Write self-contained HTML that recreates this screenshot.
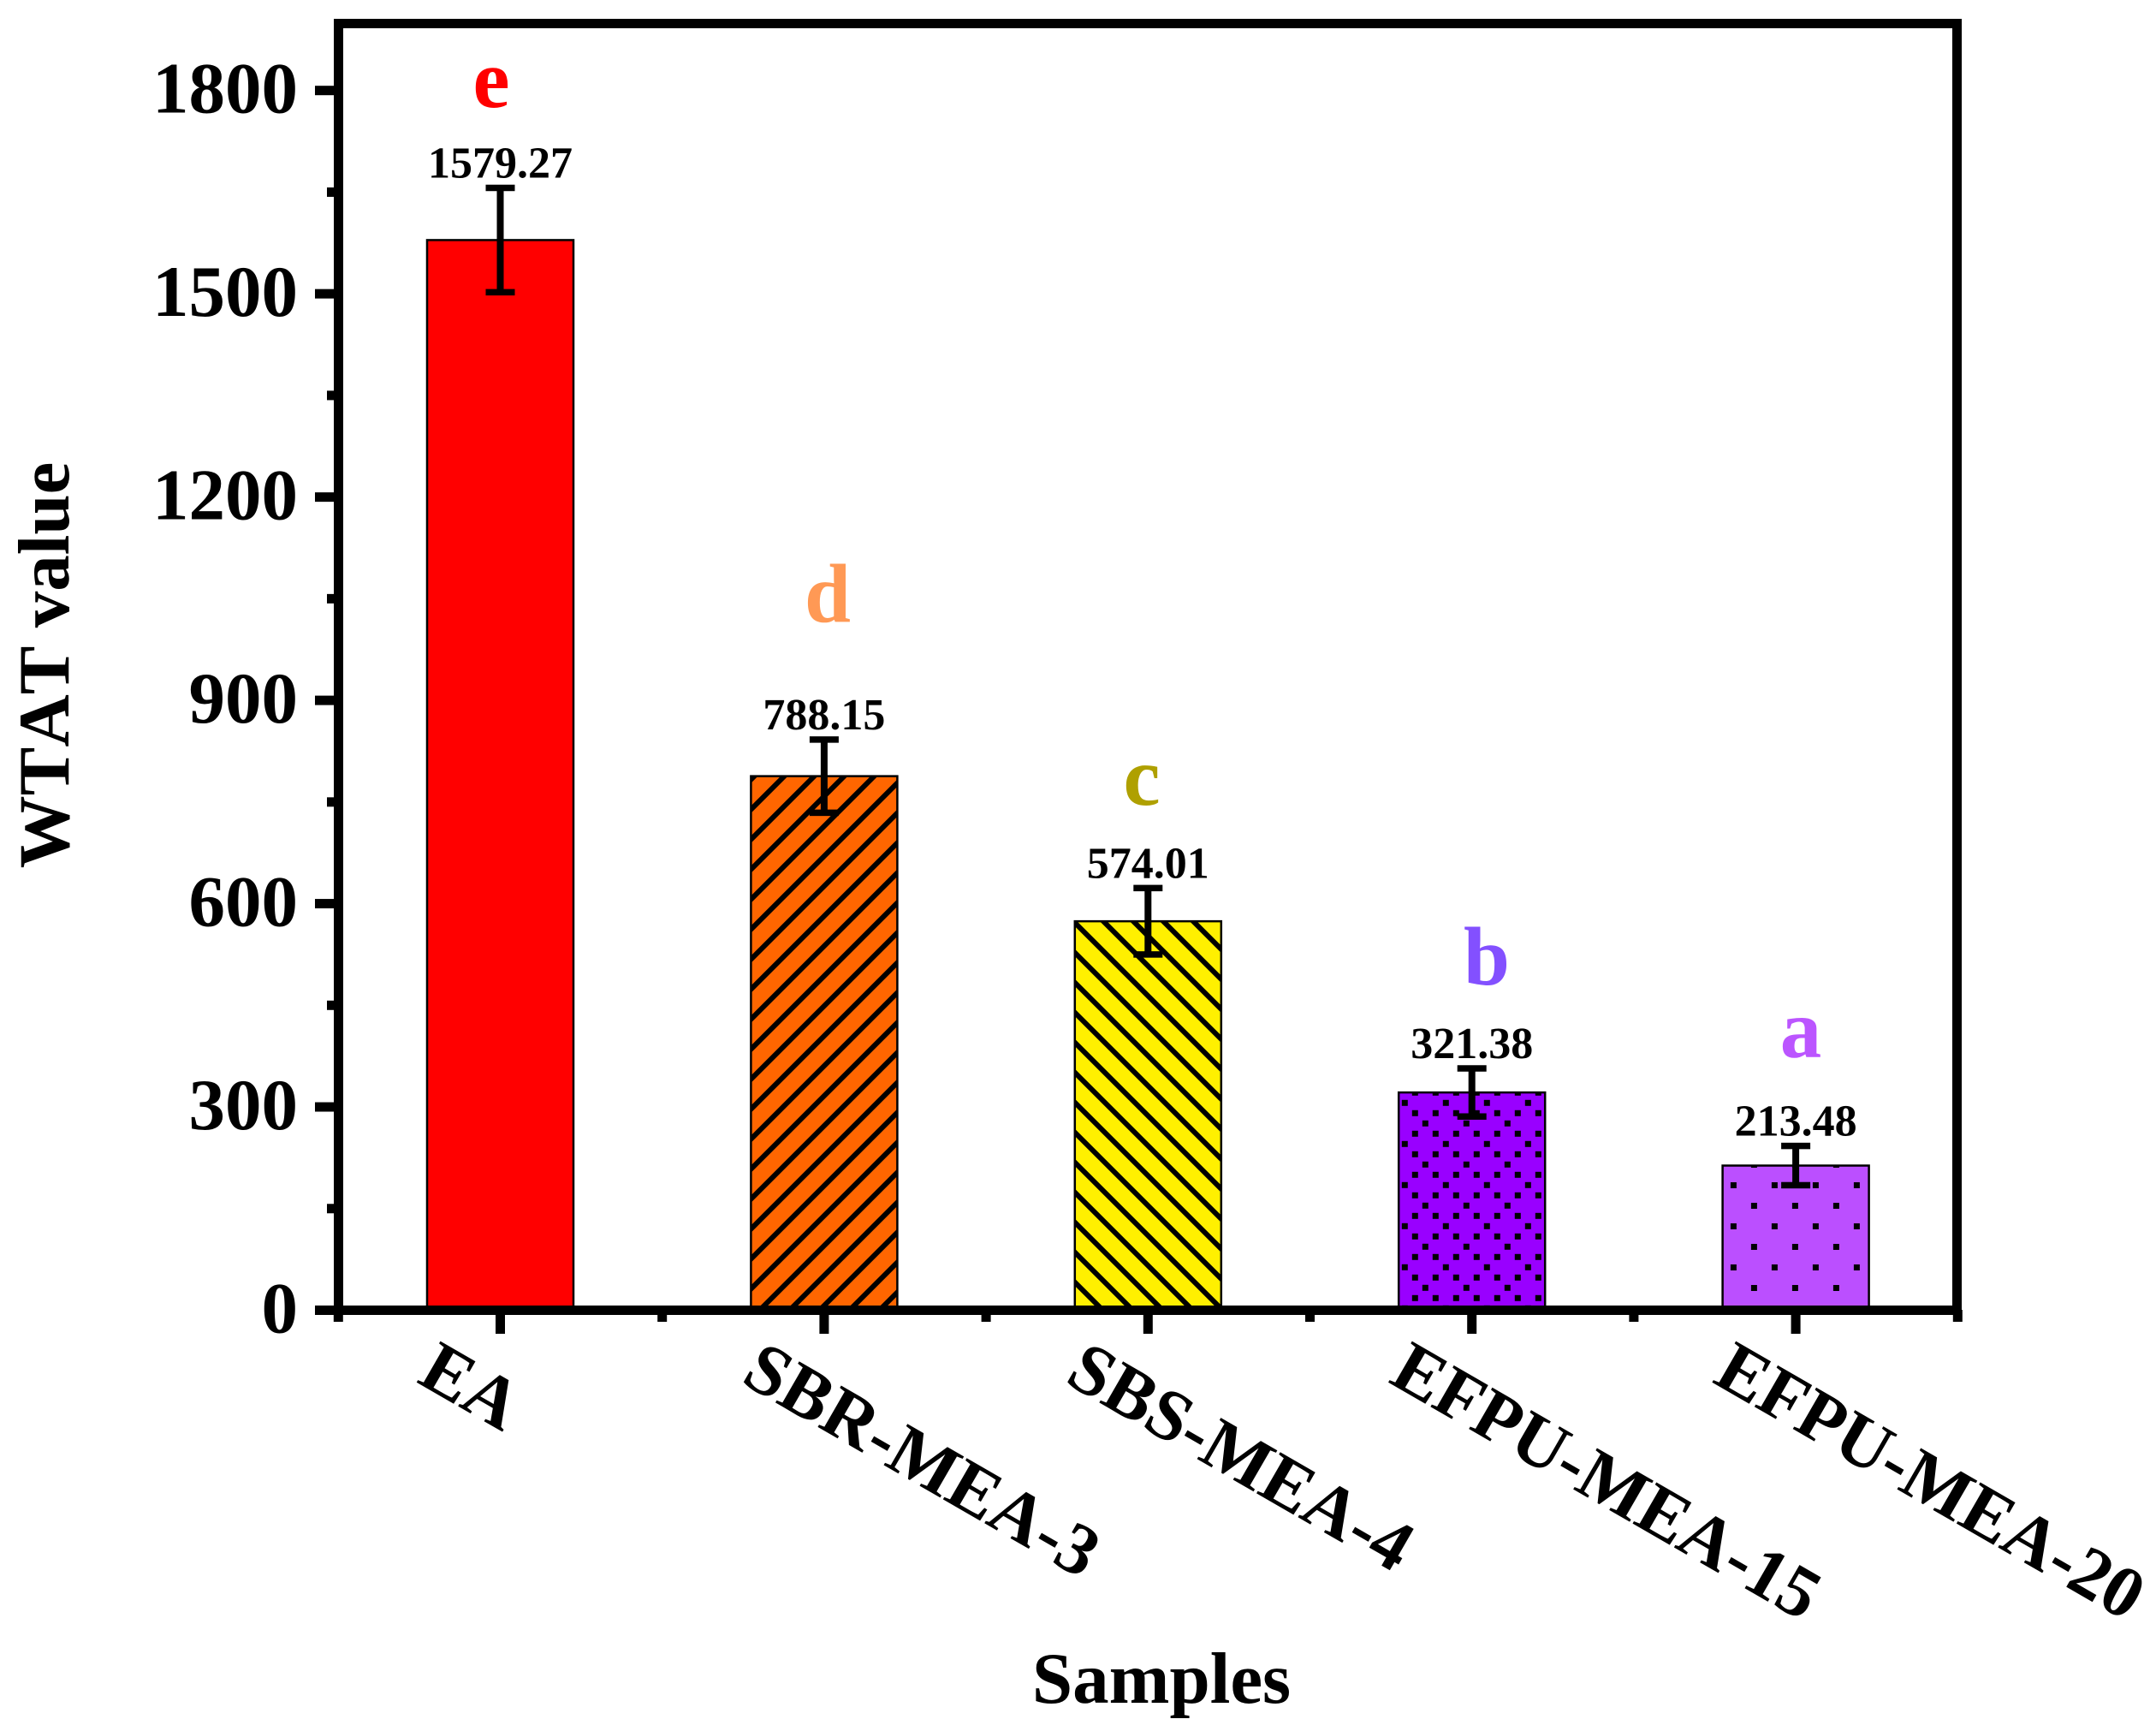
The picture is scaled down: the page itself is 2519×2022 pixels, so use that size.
<!DOCTYPE html>
<html lang="en">
<head>
<meta charset="utf-8">
<title>WTAT value by sample</title>
<style>
html,body{margin:0;padding:0;background:#fff;}
svg{display:block;}
text{font-family:"Liberation Serif",serif;font-weight:700;fill:#000;}
</style>
</head>
<body>
<svg id="chart" xmlns="http://www.w3.org/2000/svg" width="2519" height="2022" viewBox="0 0 2519 2022">
  <defs>
    <pattern id="hatch-up" patternUnits="userSpaceOnUse" x="3" y="0" width="35" height="35">
      <path d="M-5,5 L5,-5 M0,35 L35,0 M30,40 L40,30" stroke="#000" stroke-width="6" fill="none"/>
    </pattern>
    <pattern id="hatch-down" patternUnits="userSpaceOnUse" x="0" y="32" width="35" height="35">
      <path d="M0,0 L35,35 M-5,30 L5,40 M30,-5 L40,5" stroke="#000" stroke-width="6" fill="none"/>
    </pattern>
    <pattern id="dots-dense" patternUnits="userSpaceOnUse" x="1637.8" y="1284.8" width="48" height="48">
      <path d="M0,0h7v7h-7z M12,12h7v7h-7z M36,12h7v7h-7z M24,24h7v7h-7z M12,36h7v7h-7z M36,36h7v7h-7z" fill="#000"/>
    </pattern>
    <pattern id="dots-sparse" patternUnits="userSpaceOnUse" x="2021.9" y="1381" width="48" height="48">
      <path d="M0,0h7v7h-7z M24,24h7v7h-7z" fill="#000"/>
    </pattern>
  </defs>
  <rect x="0" y="0" width="2519" height="2022" fill="#fff"/>
  <g id="bars"></g>
  <g id="errors"></g>
  <g id="values"></g>
  <g id="axes"></g>
  <g font-size="97">
    <text x="574" y="125" text-anchor="middle" style="fill:#ff0000;font-size:97px">e</text>
    <text x="967" y="726" text-anchor="middle" style="fill:#ff9955;font-size:97px">d</text>
    <text x="1334" y="940" text-anchor="middle" style="fill:#afa000;font-size:97px">c</text>
    <text x="1737" y="1150" text-anchor="middle" style="fill:#8350ff;font-size:97px">b</text>
    <text x="2104" y="1235" text-anchor="middle" style="fill:#bb55ff;font-size:97px">a</text>
  </g>
  <text transform="translate(80,777) rotate(-90)" text-anchor="middle" style="font-size:85px;font-kerning:none">WTAT value</text>
  <text x="1357" y="1989" text-anchor="middle" style="font-size:85px">Samples</text>
</svg>
<script>
const categories = ["EA", "SBR-MEA-3", "SBS-MEA-4", "EFPU-MEA-15", "EFPU-MEA-20"];
const wtatValues = [1579.27, 788.15, 574.01, 321.38, 213.48];
const wtatErrors = [77, 54, 49, 35.5, 29];
const barFills = ["#ff0000", "#ff6600", "#fff000", "#9900ff", "#bb4fff"];
const barPatterns = ["", "hatch-up", "hatch-down", "dots-dense", "dots-sparse"];
const yMajorTicks = [0, 300, 600, 900, 1200, 1500, 1800];
const yMinorTicks = [150, 450, 750, 1050, 1350, 1650];

const NS = "http://www.w3.org/2000/svg";
function yScale(v) { return 1530.5 - v * (1530.5 - 105.7) / 1800; }
function xScale(p) { return 584.5 + p * 378.4; }
function make(tag, parent, attrs) {
  const el = document.createElementNS(NS, tag);
  for (const k in attrs) el.setAttribute(k, attrs[k]);
  parent.appendChild(el);
  return el;
}
const barsG = document.getElementById("bars");
const errG = document.getElementById("errors");
const valG = document.getElementById("values");
const axG = document.getElementById("axes");
const BAR_W = 171;

categories.forEach(function (cat, i) {
  const cx = xScale(i);
  const top = yScale(wtatValues[i]);
  const base = yScale(0);
  const bar = make("rect", barsG, { x: cx - BAR_W / 2, y: top, width: BAR_W, height: base - top, fill: barFills[i] });
  
  
  const overlay = make("rect", barsG, { x: cx - BAR_W / 2, y: top, width: BAR_W, height: base - top, fill: barPatterns[i] ? "url(#" + barPatterns[i] + ")" : "none", stroke: "#000", "stroke-width": 2.5 });
  
  

  const hi = yScale(wtatValues[i] + wtatErrors[i]);
  const lo = yScale(wtatValues[i] - wtatErrors[i]);
  const stem = make("rect", errG, { x: cx - 4, y: hi, width: 8, height: lo - hi, fill: "#000" });
  
  
  const capTop = make("rect", errG, { x: cx - 17, y: hi - 3.75, width: 34, height: 7.5, fill: "#000" });
  
  
  const capBot = make("rect", errG, { x: cx - 17, y: lo - 3.75, width: 34, height: 7.5, fill: "#000" });
  
  

  const val = make("text", valG, { x: cx, y: hi - 12, "text-anchor": "middle", style: "font-size:52px" });
  val.textContent = wtatValues[i].toFixed(2);
  
  

  const tick = make("rect", axG, { x: cx - 5.5, y: 1530, width: 11, height: 28, fill: "#000" });
  
  

  const label = make("text", axG, { transform: "translate(" + (cx - 99) + ",1614) rotate(30)", style: "font-size:84.8px" });
  label.textContent = cat;
  
  
});

for (let i = -0.5; i <= categories.length - 0.5; i += 1) {
  const m = make("rect", axG, { x: xScale(i) - 5.5, y: 1530, width: 11, height: 14, fill: "#000" });
  
  
}

yMajorTicks.forEach(function (t) {
  const y = yScale(t);
  const tick = make("rect", axG, { x: 368, y: y - 5.5, width: 25, height: 11, fill: "#000" });
  
  
  const label = make("text", axG, { x: 348, y: y + 26, "text-anchor": "end", style: "font-size:85px" });
  label.textContent = String(t);
  
  
});
yMinorTicks.forEach(function (t) {
  const tick = make("rect", axG, { x: 382, y: yScale(t) - 5.5, width: 11, height: 11, fill: "#000" });
  
  
});

const spineLeft = make("rect", axG, { x: 390, y: 22, width: 11, height: 1514, fill: "#000" });


const spineRight = make("rect", axG, { x: 2281, y: 22, width: 11, height: 1514, fill: "#000" });


const spineTop = make("rect", axG, { x: 390, y: 22, width: 1902, height: 11, fill: "#000" });


const spineBottom = make("rect", axG, { x: 390, y: 1525, width: 1902, height: 11, fill: "#000" });


</script>
</body>
</html>
